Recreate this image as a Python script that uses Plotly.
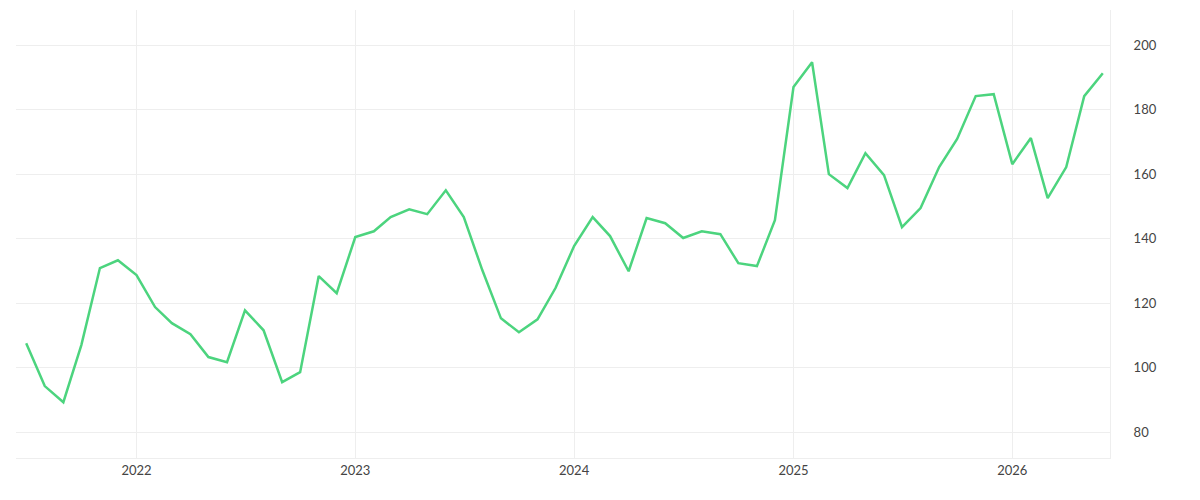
import pandas as pd
import plotly.graph_objects as go

dates = pd.date_range("2021-07-01", periods=60, freq="MS")
values = [107.6, 94.3, 89.3, 107, 130.9, 133.3,
          128.7, 118.8, 113.8, 110.4, 103.3, 101.7, 117.8, 111.6, 95.5, 98.6, 128.4, 123.1,
          140.5, 142.3, 146.7, 149.1, 147.6, 155, 146.7, 130.2, 115.3, 111, 115, 124.7,
          137.7, 146.7, 140.8, 129.9, 146.4, 144.8, 140.2, 142.3, 141.4, 132.4, 131.5, 145.7,
          187, 194.7, 160, 155.7, 166.5, 159.7, 143.6, 149.5, 162.2, 170.9, 184.2, 184.8,
          163.1, 171.2, 152.6, 162.2, 184.2, 191.3]

fig = go.Figure()
fig.add_trace(go.Scatter(x=dates, y=values, mode="lines",
                         line=dict(color="#4cd47e", width=2.5)))

fig.update_layout(
    width=1200, height=500,
    margin=dict(l=8, r=98, t=2, b=50),
    plot_bgcolor="white", paper_bgcolor="white",
    showlegend=False,
    font=dict(family="Lato", size=13, color="#444"),
)
fig.update_xaxes(range=["2021-06-14", "2026-06-13"], showgrid=True, gridcolor="#eeeeee",
                 dtick="M12", tickformat="%Y", ticks="", zeroline=False,
                 showline=True, linecolor="#eeeeee", mirror=False)
fig.update_yaxes(side="right", range=[72, 210.9], dtick=20, tick0=0, showgrid=True,
                 gridcolor="#eeeeee", zeroline=False, showline=True, linecolor="#eeeeee",
                 ticklabelstandoff=20)

fig.write_html("out.html")
